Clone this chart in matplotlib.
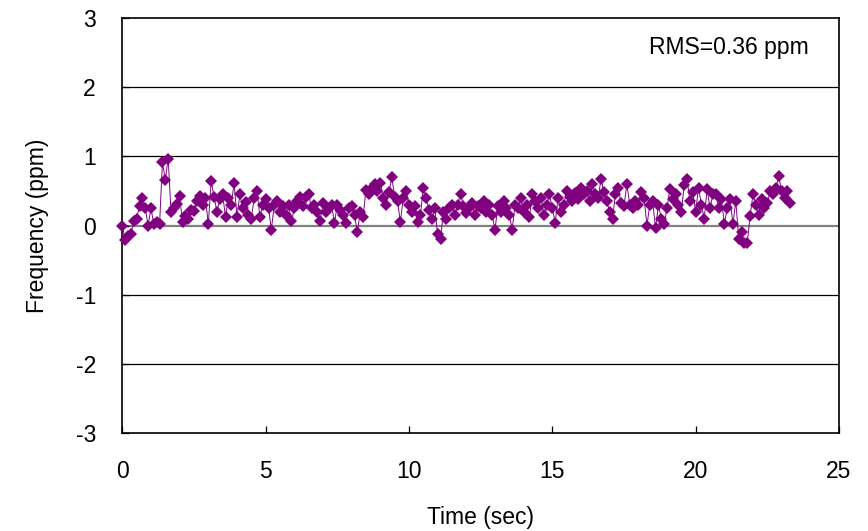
import numpy as np
import matplotlib
matplotlib.use("Agg")
import matplotlib.pyplot as plt

plt.rcParams['font.family'] = ['Liberation Sans', 'DejaVu Sans']
plt.rcParams['axes.unicode_minus'] = False

# frequency deviation (ppm), one sample every 0.1 s
freq = [
    0.00, -0.21, -0.15, -0.12, 0.07, 0.10, 0.28, 0.40, 0.26, 0.00,
    0.25, 0.02, 0.05, 0.02, 0.92, 0.66, 0.97, 0.19, 0.25, 0.31,
    0.43, 0.05, 0.14, 0.10, 0.22, 0.21, 0.35, 0.43, 0.30, 0.40,
    0.02, 0.64, 0.42, 0.20, 0.38, 0.45, 0.12, 0.40, 0.30, 0.61,
    0.12, 0.45, 0.25, 0.34, 0.15, 0.10, 0.40, 0.50, 0.12, 0.30,
    0.38, 0.25, -0.06, 0.30, 0.35, 0.20, 0.28, 0.15, 0.30, 0.06,
    0.25, 0.35, 0.41, 0.28, 0.41, 0.45, 0.25, 0.30, 0.20, 0.06,
    0.32, 0.20, 0.25, 0.30, 0.03, 0.30, 0.22, 0.15, 0.03,
    0.25, 0.28, 0.15, -0.10, 0.20, 0.12, 0.52, 0.45, 0.55, 0.60,
    0.50, 0.62, 0.40, 0.30, 0.48, 0.70, 0.42, 0.35, 0.05, 0.40,
    0.50, 0.30, 0.20, 0.28, 0.05, 0.15, 0.55, 0.40, 0.22, 0.10,
    0.25, -0.13, -0.20, 0.20, 0.10, 0.25, 0.29, 0.15, 0.30, 0.46,
    0.28, 0.18, 0.25, 0.32, 0.15, 0.28, 0.25, 0.35, 0.20, 0.30,
    0.15, -0.06, 0.28, 0.20, 0.35, 0.25, 0.15, -0.06, 0.30, 0.25,
    0.40, 0.20, 0.30, 0.12, 0.45, 0.35, 0.25, 0.40, 0.15, 0.30,
    0.45, 0.25, 0.04, 0.40, 0.20, 0.30, 0.50, 0.42, 0.35, 0.47,
    0.38, 0.55, 0.45, 0.50, 0.35, 0.60, 0.45, 0.40, 0.68,
    0.48, 0.35, 0.20, 0.10, 0.45, 0.55, 0.32, 0.28, 0.60, 0.30,
    0.25, 0.35, 0.30, 0.48, 0.40, 0.00, 0.30, 0.35, -0.04, 0.30,
    0.10, 0.02, 0.25, 0.53, 0.38, 0.45, 0.30, 0.20, 0.58, 0.67,
    0.35, 0.48, 0.20, 0.55, 0.30, 0.10, 0.53, 0.25, 0.45, 0.45,
    0.26, 0.38, 0.02, 0.25, 0.38, 0.02, 0.36, -0.20, -0.10, -0.25,
    -0.25, 0.14, 0.45, 0.30, 0.15, 0.38, 0.25, 0.32, 0.50, 0.45,
    0.55, 0.71, 0.50, 0.40, 0.50, 0.33,
]
dt = 0.1
time = np.arange(len(freq)) * dt

xticks = [0, 5, 10, 15, 20, 25]
yticks = [-3, -2, -1, 0, 1, 2, 3]
rms_text = "RMS=0.36 ppm"

purple = "#800080"

fig = plt.figure(figsize=(8.68, 5.31), dpi=100)
ax = fig.add_axes([0.1409, 0.1851, 0.8257, 0.7804])

# horizontal grid, zero line in grey
for y in yticks[1:-1]:
    if y == 0:
        ax.axhline(y, color="#808080", lw=1.6, zorder=1)
    else:
        ax.axhline(y, color="black", lw=0.9, zorder=1)

ax.plot(time, freq, color=purple, lw=0.7, marker="D", markersize=6.3,
        markeredgewidth=0, zorder=3, clip_on=False)

ax.set_xlim(0, 25)
ax.set_ylim(-3, 3)
ax.set_xticks(xticks)
ax.set_yticks(yticks)
ax.tick_params(direction="in", length=5, width=0.9, labelsize=16.5)
ax.tick_params(axis="x", pad=20)
ax.tick_params(axis="y", pad=19)
for s in ax.spines.values():
    s.set_linewidth(1.2)
    s.set_color("black")

ax.set_xlabel("Time (sec)", fontsize=16.5, labelpad=16)
ax.set_ylabel("Frequency (ppm)", fontsize=16.5, labelpad=19)

ax.text(0.8466, 0.929, rms_text, transform=ax.transAxes, ha="center",
        va="center", fontsize=16.5)

fig.savefig("out.png", dpi=100)
